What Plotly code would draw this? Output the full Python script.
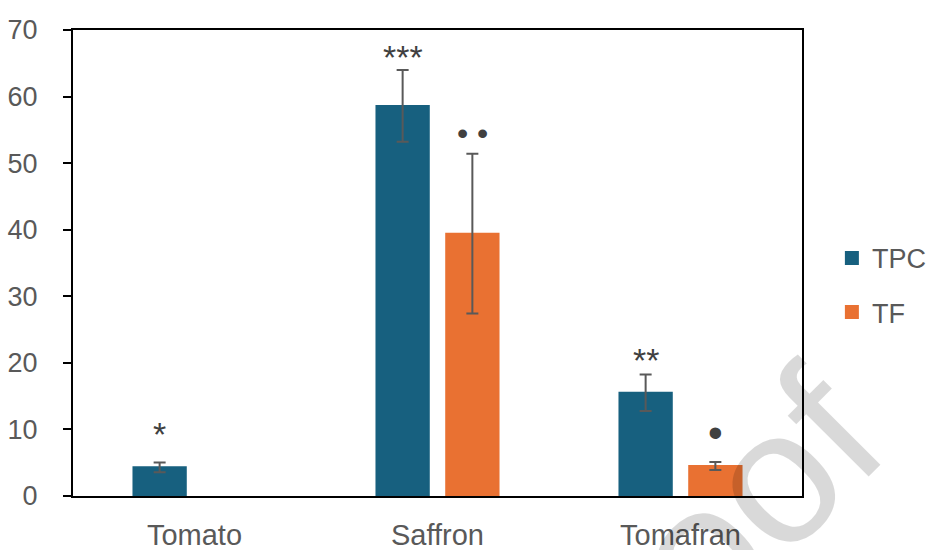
import plotly.graph_objects as go

# Sample groups and measured values
categories = ["Tomato", "Saffron", "Tomafran"]
tpc = [4.3, 58.6, 15.5]
tpc_err = [0.75, 5.4, 2.75]
tf = [None, 39.4, 4.5]
tf_err = [None, 12.0, 0.6]

# Significance marks above each bar
tpc_marks = ["*", "***", "**"]
tpc_mark_y = [9.3, 66.0, 20.4]
tf_marks = ["", "• •", "•"]
tf_mark_y = [None, 54.5, 9.5]

TPC_COLOR = "#17607f"
TF_COLOR = "#e97132"
TEXT = "#595959"
ERR = "#595959"
FONT = "Liberation Sans, Arial, sans-serif"

BARGAP = 0.426
BARGROUPGAP = 0.25
# centre of each bar relative to its category centre
slot = (1 - BARGAP) / 2
offset = slot / 2

xpos = list(range(len(categories)))

fig = go.Figure()
fig.add_trace(go.Bar(
    x=xpos, y=tpc, name="TPC", legendgroup="tpc",
    marker=dict(color=TPC_COLOR, line=dict(width=2, color=TPC_COLOR)),
    error_y=dict(type="data", array=tpc_err, color=ERR, thickness=2, width=6),
))
fig.add_trace(go.Bar(
    x=xpos, y=tf, name="TF", legendgroup="tf",
    marker=dict(color=TF_COLOR, line=dict(width=2, color=TF_COLOR)),
    error_y=dict(type="data", array=tf_err, color=ERR, thickness=2, width=6),
))

annotations = []
for i, (m, yv) in enumerate(zip(tpc_marks, tpc_mark_y)):
    if m:
        annotations.append(dict(x=i - offset, y=yv, xref="x", yref="y", text=m,
                                showarrow=False, xanchor="center", yanchor="middle",
                                font=dict(family=FONT, size=34, color="#404040")))
for i, (m, yv) in enumerate(zip(tf_marks, tf_mark_y)):
    if m:
        size = 32 if len(m) > 1 else 42
        annotations.append(dict(x=i + offset, y=yv, xref="x", yref="y", text=m,
                                showarrow=False, xanchor="center", yanchor="middle",
                                font=dict(family=FONT, size=size, color="#404040")))

# page watermark (translucent so the labels underneath stay visible)
annotations.append(dict(x=0.351, y=-0.916, xref="paper", yref="paper",
                        text="Journal Pre-proof", showarrow=False, textangle=-45,
                        xanchor="center", yanchor="middle",
                        font=dict(family=FONT, size=190, color="rgba(0,0,0,0.15)")))

fig.update_layout(
    width=929, height=550,
    margin=dict(l=73, r=127, t=30, b=54, autoexpand=False),
    paper_bgcolor="white", plot_bgcolor="white",
    barmode="group", bargap=BARGAP, bargroupgap=BARGROUPGAP,
    font=dict(family=FONT, color=TEXT),
    showlegend=True,
    legend=dict(x=1.041, y=0.452, xanchor="left", yanchor="middle",
                traceorder="grouped", tracegroupgap=16,
                font=dict(family=FONT, size=27, color=TEXT),
                bgcolor="rgba(0,0,0,0)"),
    annotations=annotations,
)
fig.update_xaxes(
    range=[-0.5, 2.5], tickmode="array", tickvals=xpos, ticktext=categories,
    showline=True, linecolor="black", linewidth=2, mirror=True,
    ticks="", showgrid=False, zeroline=False, automargin=False,
    tickfont=dict(family=FONT, size=29, color=TEXT), ticklabelstandoff=12,
)
fig.update_yaxes(
    range=[0, 70], dtick=10, tick0=0,
    showline=True, linecolor="black", linewidth=2, mirror=True,
    ticks="outside", ticklen=8, tickwidth=2, tickcolor="black",
    showgrid=False, zeroline=False, automargin=False,
    tickfont=dict(family=FONT, size=27, color=TEXT), ticklabelstandoff=20,
)

fig.write_html("out.html")
